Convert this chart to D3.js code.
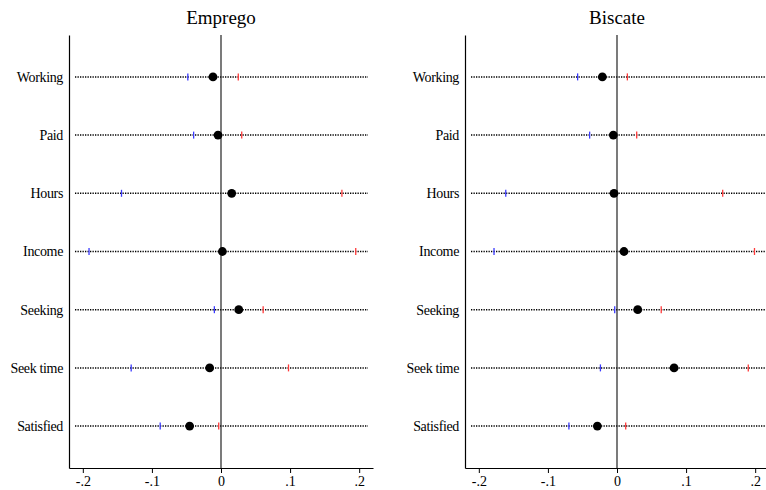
<!DOCTYPE html>
<html><head><meta charset="utf-8">
<script src="https://cdn.jsdelivr.net/npm/d3@7"></script>
<style>body{margin:0;background:#fff}svg{display:block}</style>
</head><body>
<svg id="c" width="766" height="490" font-family="Liberation Serif, Times New Roman, serif"></svg>
<script>
const categories = ["Working","Paid","Hours","Income","Seeking","Seek time","Satisfied"];
const panelTitles = ["Emprego","Biscate"];
const tickValues = [-0.2,-0.1,0,0.1,0.2];
const tickLabels = ["-.2","-.1","0",".1",".2"];
// Emprego
const empEst  = [-0.0116,-0.0043,0.0155,0.002,0.0257,-0.0164,-0.0454];
const empLow  = [-0.048,-0.0396,-0.144,-0.191,-0.0096,-0.130,-0.088];
const empHigh = [0.025,0.030,0.175,0.195,0.061,0.0977,-0.0033];
// Biscate
const bisEst  = [-0.0212,-0.0053,-0.0043,0.0101,0.030,0.0826,-0.0284];
const bisLow  = [-0.057,-0.0396,-0.161,-0.178,-0.0033,-0.024,-0.0696];
const bisHigh = [0.015,0.0285,0.153,0.199,0.064,0.190,0.0126];

const FONT = "Liberation Serif, Times New Roman, serif";
const svg = d3.select("#c");
const panels = [
  {title: panelTitles[0], est: empEst, low: empLow, high: empHigh, x0: 69, x1: 373, lineEnd: 368},
  {title: panelTitles[1], est: bisEst, low: bisLow, high: bisHigh, x0: 465, x1: 769, lineEnd: 766}
];
const yTop = 35, yBot = 468;
const y = d3.scalePoint().domain(categories).range([yTop, yBot]).padding(0.72);

panels.forEach(p => {
  const x = d3.scaleLinear().domain([-0.22, 0.22]).range([p.x0, p.x1]);
  const g = svg.append("g");
  g.append("text").attr("x", x(0)).attr("y", 24).attr("text-anchor","middle")
    .attr("font-family", FONT).attr("font-size", 19).attr("fill","#000").text(p.title);
  g.selectAll("line.dot").data(categories).join("line")
    .attr("x1", p.x0 + 6).attr("x2", p.lineEnd)
    .attr("y1", d => y(d)).attr("y2", d => y(d))
    .attr("stroke","#000").attr("stroke-width",1.5).attr("stroke-dasharray","1.3,1.2");
  g.append("line").attr("x1", x(0)).attr("x2", x(0)).attr("y1", yTop).attr("y2", yBot)
    .attr("stroke","#222").attr("stroke-width",1.2);
  const ya = g.append("g").attr("transform", `translate(${p.x0},0)`)
    .call(d3.axisLeft(y).tickSize(0).tickPadding(6))
    .attr("font-family", FONT).attr("font-size", 14);
  ya.select(".domain").attr("stroke","#000").attr("stroke-width",1.2);
  ya.selectAll("text").attr("fill","#000").attr("letter-spacing", -0.35);
  const xa = g.append("g").attr("transform", `translate(0,${yBot})`)
    .call(d3.axisBottom(x).tickValues(tickValues).tickFormat((d,i)=>tickLabels[i]).tickSize(5).tickPadding(3).tickSizeOuter(0))
    .attr("font-family", FONT).attr("font-size", 14);
  xa.select(".domain").attr("stroke","#000").attr("stroke-width",1.2);
  xa.selectAll(".tick line").attr("stroke","#000");
  xa.selectAll("text").attr("fill","#000");
  g.selectAll("line.lo").data(categories).join("line")
    .attr("x1",(d,i)=>x(p.low[i])).attr("x2",(d,i)=>x(p.low[i]))
    .attr("y1",d=>y(d)-3.5).attr("y2",d=>y(d)+3.5)
    .attr("stroke","#3a3aff").attr("stroke-width",1.3);
  g.selectAll("line.hi").data(categories).join("line")
    .attr("x1",(d,i)=>x(p.high[i])).attr("x2",(d,i)=>x(p.high[i]))
    .attr("y1",d=>y(d)-3.5).attr("y2",d=>y(d)+3.5)
    .attr("stroke","#ff3a3a").attr("stroke-width",1.3);
  g.selectAll("circle").data(categories).join("circle")
    .attr("cx",(d,i)=>x(p.est[i])).attr("cy",d=>y(d)).attr("r",4.4).attr("fill","#000");
});
</script>
</body></html>
